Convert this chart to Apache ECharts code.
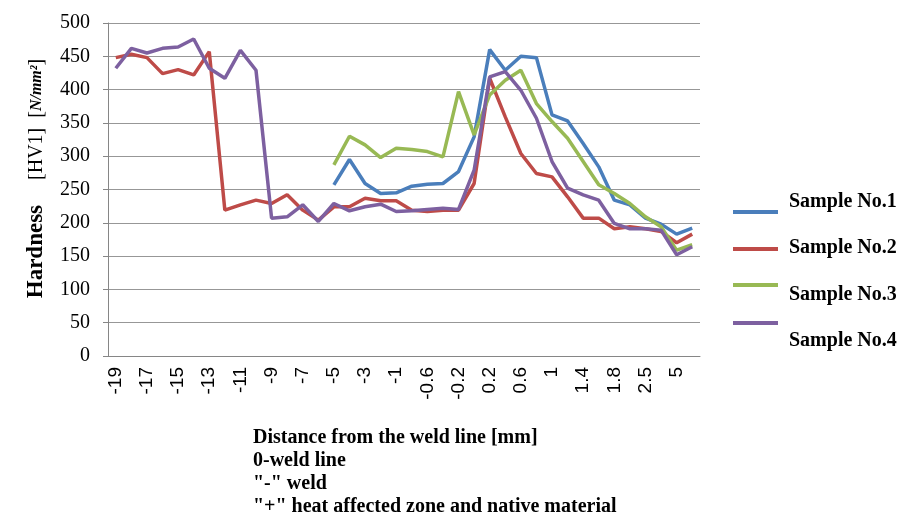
<!DOCTYPE html>
<html lang="en">
<head>
    <meta charset="UTF-8">
    <title>Hardness across the weld line</title>
    <script src="https://cdn.jsdelivr.net/npm/echarts@6/dist/echarts.min.js"></script>
</head>
<body style="margin: 0; background: #fff">
    <div id="chart" style="width: 901px; height: 515px;"></div>
    <script>
        // distance from the weld line [mm]
        const distances = [
            '-19', '-18', '-17', '-16', '-15', '-14', '-13', '-12', '-11', '-10',
            '-9', '-8', '-7', '-6', '-5', '-4', '-3', '-2', '-1',
            '-0.8', '-0.6', '-0.4', '-0.2', '0', '0.2', '0.4', '0.6', '0.8',
            '1', '1.2', '1.4', '1.6', '1.8', '2', '2.5', '3', '5', '7'
        ];

        const gap14 = [null, null, null, null, null, null, null, null, null, null, null, null, null, null];

        const sample1 = gap14.concat([
            257, 295, 259, 244, 245, 255, 258, 259, 277, 329,
            460, 429, 450, 448, 362, 353, 319, 284, 234, 227,
            207, 198, 183, 192
        ]);
        const sample2 = [
            448, 453, 448, 424, 430, 422, 457, 219, 227, 234,
            229, 242, 219, 204, 224, 224, 237, 233, 233, 219,
            217, 219, 219, 259, 417, 359, 304, 274, 269, 239,
            207, 207, 191, 194, 191, 187, 170, 183
        ];
        const sample3 = gap14.concat([
            287, 330, 317, 298, 312, 310, 307, 299, 397, 332,
            392, 414, 429, 379, 352, 327, 292, 257, 244, 229,
            209, 194, 159, 167
        ]);
        const sample4 = [
            432, 462, 455, 462, 464, 476, 432, 417, 459, 429,
            207, 209, 227, 202, 229, 218, 224, 228, 217, 218,
            220, 222, 220, 279, 419, 427, 399, 357, 292, 252,
            242, 234, 199, 191, 191, 189, 152, 164
        ];

        const names = ['Sample No.1', 'Sample No.2', 'Sample No.3', 'Sample No.4'];
        const colors = ['#4a7ebb', '#be4b48', '#98b954', '#7d60a0'];
        const values = [sample1, sample2, sample3, sample4];

        const serif = '"Liberation Serif", "DejaVu Serif", serif';
        const gridColor = '#979797';

        // excel put the legend text a bit off from its line, one legend per item to copy that
        const legendTops = [192, 238, 283, 321];
        const textPads = [[0, 0, 20, 6], [0, 0, 2, 6], [19, 0, 0, 6], [35, 0, 0, 6]];

        const myChart = echarts.init(document.getElementById('chart'));

        const option = {
            backgroundColor: '#fff',
            animation: false,
            title: {
                text: 'Distance from the weld line [mm]\n0-weld line\n"-" weld\n"+" heat affected zone and native material',
                left: 253,
                top: 426,
                padding: 0,
                textStyle: {
                    fontFamily: serif,
                    fontWeight: 'bold',
                    fontSize: 20,
                    lineHeight: 23,
                    color: '#000'
                }
            },
            legend: names.map((n, i) => ({
                data: [n],
                left: 733,
                top: legendTops[i],
                padding: 0,
                icon: 'rect',
                itemWidth: 45,
                itemHeight: 4,
                selectedMode: false,
                formatter: '{t|{name}}',
                textStyle: {
                    rich: {
                        t: {
                            fontFamily: serif,
                            fontWeight: 'bold',
                            fontSize: 20,
                            color: '#000',
                            padding: textPads[i]
                        }
                    }
                }
            })),
            grid: {
                left: 108,
                right: 201,
                top: 23,
                bottom: 159
            },
            xAxis: {
                type: 'category',
                data: distances,
                boundaryGap: true,
                axisLine: { lineStyle: { color: '#868686' } },
                axisTick: { interval: 0, length: 5, lineStyle: { color: '#868686' } },
                axisLabel: {
                    interval: 1,
                    rotate: 90,
                    margin: 11,
                    fontFamily: '"Liberation Sans", Arial, sans-serif',
                    fontSize: 19,
                    color: '#000'
                },
                splitLine: { show: false }
            },
            yAxis: {
                type: 'value',
                min: 0,
                max: 500,
                interval: 50,
                name: '{b|Hardness}{r|     [HV1]  [}{i|N/mm²}{r|]}',
                nameLocation: 'middle',
                nameGap: 60,
                nameTextStyle: {
                    padding: [0, 0, 0, 22],
                    rich: {
                        b: { fontFamily: serif, fontWeight: 'bold', fontSize: 23, color: '#000' },
                        r: { fontFamily: serif, fontSize: 20, color: '#000' },
                        i: { fontFamily: serif, fontStyle: 'italic', fontWeight: 'bold', fontSize: 16, color: '#000' }
                    }
                },
                axisLine: { show: true, lineStyle: { color: '#868686' } },
                axisTick: { show: true, length: 5, lineStyle: { color: '#868686' } },
                axisLabel: {
                    margin: 18,
                    fontFamily: serif,
                    fontSize: 20,
                    color: '#000'
                },
                splitLine: { lineStyle: { color: gridColor, width: 1 } }
            },
            series: names.map((n, i) => ({
                name: n,
                type: 'line',
                data: values[i],
                symbol: 'none',
                connectNulls: false,
                color: colors[i],
                lineStyle: { width: 3.5, color: colors[i] }
            }))
        };

        myChart.setOption(option);
    </script>
</body>
</html>
